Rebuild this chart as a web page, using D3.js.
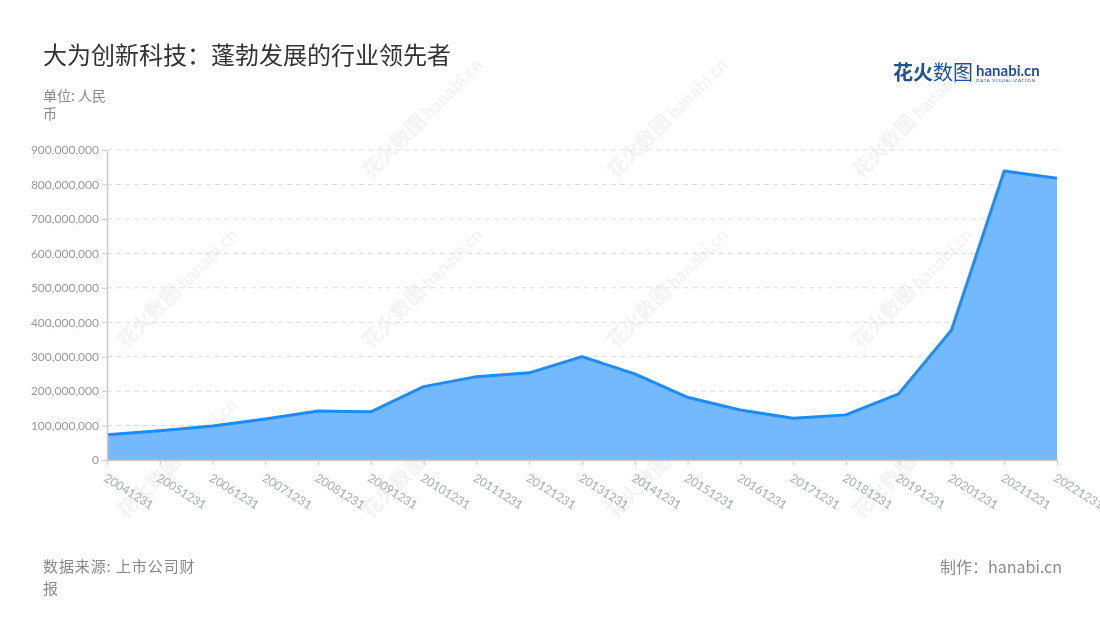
<!DOCTYPE html>
<html><head><meta charset="utf-8">
<script src="https://cdn.jsdelivr.net/npm/d3@7/dist/d3.min.js"></script>
<style>
body{margin:0;background:#fff;font-family:"Noto Sans CJK SC","Noto Sans",sans-serif;}
svg{display:block}
</style></head>
<body>
<svg id="chart" width="1100" height="620"></svg>
<script>
const categories = ["20041231","20051231","20061231","20071231","20081231","20091231","20101231","20111231","20121231","20131231","20141231","20151231","20161231","20171231","20181231","20191231","20201231","20211231","20221231"];
const values = [73e6,85e6,99e6,119e6,142e6,140e6,213e6,242e6,253e6,300e6,250e6,182e6,145e6,121e6,131e6,192e6,377e6,839e6,818e6];
const yTicks = [0,1e8,2e8,3e8,4e8,5e8,6e8,7e8,8e8,9e8];
const title = "大为创新科技：蓬勃发展的行业领先者";
const unitLines = ["单位: 人民","币"];
const sourceLines = ["数据来源: 上市公司财","报"];
const credit = "制作：hanabi.cn";

const svg = d3.select("#chart");
const m = {l:107, r:1057, t:150, b:460};
const x = d3.scalePoint().domain(categories).range([m.l, m.r]);
const y = d3.scaleLinear().domain([0, 9e8]).range([m.b, m.t]);

// watermarks
const wm = svg.append("g").attr("fill","#000").attr("opacity",0.05);
const wmPos = [[420,130],[665,130],[910,130],[175,300],[420,300],[665,300],[910,300],[175,470],[420,470],[665,470],[910,470]];
wmPos.forEach(([cx,cy])=>{
  const g = wm.append("g").attr("transform",`translate(${cx},${cy}) rotate(-45)`);
  g.append("text").attr("x",-70).attr("y",0).attr("font-size",20).attr("font-weight",700).text("花火数图");
  g.append("text").attr("x",14).attr("y",0).attr("font-size",18).attr("font-weight",700).attr("font-family","Lato, sans-serif").text("hanabi.cn");
});

// grid
svg.append("g").selectAll("line").data(yTicks.filter(d=>d>0)).join("line")
  .attr("x1",m.l).attr("x2",m.r).attr("y1",d=>y(d)).attr("y2",d=>y(d))
  .attr("stroke","#dcdcdc").attr("stroke-dasharray","5,4").attr("stroke-width",1);

const curve = d3.curveLinear;
const area = d3.area().x((d,i)=>x(categories[i])).y0(y(0)).y1(d=>y(d)).curve(curve);
const line = d3.line().x((d,i)=>x(categories[i])).y(d=>y(d)).curve(curve);
svg.append("path").datum(values).attr("d",area).attr("fill","#74b9fd");
svg.append("path").datum(values).attr("d",line).attr("fill","none").attr("stroke","#1a8cff").attr("stroke-width",3).attr("stroke-linejoin","round");

// y axis
const yAxis = svg.append("g").attr("transform",`translate(${m.l},0)`)
  .call(d3.axisLeft(y).tickValues(yTicks).tickFormat(d3.format(",")).tickSize(5).tickSizeOuter(0));
yAxis.select(".domain").attr("stroke","#cccccc").attr("stroke-width",1.5);
yAxis.selectAll(".tick line").attr("stroke","#cccccc");
yAxis.selectAll("text").attr("fill","#999").attr("font-size",12).attr("font-family","Lato, 'Noto Sans', sans-serif").attr("x",-8);

// x axis
const xAxis = svg.append("g").attr("transform",`translate(0,${m.b})`)
  .call(d3.axisBottom(x).tickSize(5).tickSizeOuter(0));
xAxis.select(".domain").attr("stroke","#cccccc").attr("stroke-width",1.5);
xAxis.selectAll(".tick line").attr("stroke","#cccccc");
xAxis.selectAll("text").attr("fill","#a8acbd").attr("font-size",12).attr("font-family","Lato, 'Noto Sans', sans-serif")
  .attr("text-anchor","start").attr("x",0).attr("y",0).attr("dy","0.71em")
  .attr("transform","translate(0,13) rotate(32)");

// title
svg.append("text").attr("x",43).attr("y",64).attr("font-size",24).attr("fill","#333").text(title);
svg.append("g").selectAll("text").data(unitLines).join("text")
  .attr("x",43).attr("y",(d,i)=>101+i*18).attr("font-size",14).attr("fill","#888").text(d=>d);
svg.append("g").selectAll("text").data(sourceLines).join("text")
  .attr("x",43).attr("y",(d,i)=>572+i*22).attr("font-size",15).attr("letter-spacing",0.9).attr("fill","#888").text(d=>d);
svg.append("text").attr("x",1062).attr("y",573).attr("text-anchor","end").attr("font-size",16).attr("fill","#8a8a99").text(credit);

// logo
const logo = svg.append("g");
logo.append("text").attr("x",893).attr("y",80).attr("font-size",20).attr("font-weight",700).attr("fill","#1d4f9c").text("花火");
logo.append("text").attr("x",933).attr("y",80).attr("font-size",20).attr("fill","#1d4f9c").text("数图");
logo.append("text").attr("x",976).attr("y",76).attr("font-size",15).attr("font-weight",700).attr("fill","#1d4f9c").attr("font-family","Lato, sans-serif").text("hanabi.cn");
logo.append("text").attr("x",976).attr("y",82).attr("font-size",4.5).attr("fill","#1d4f9c").attr("font-family","Lato, sans-serif").attr("letter-spacing",0.8).text("DATA VISUALIZATION");
</script>
</body></html>
